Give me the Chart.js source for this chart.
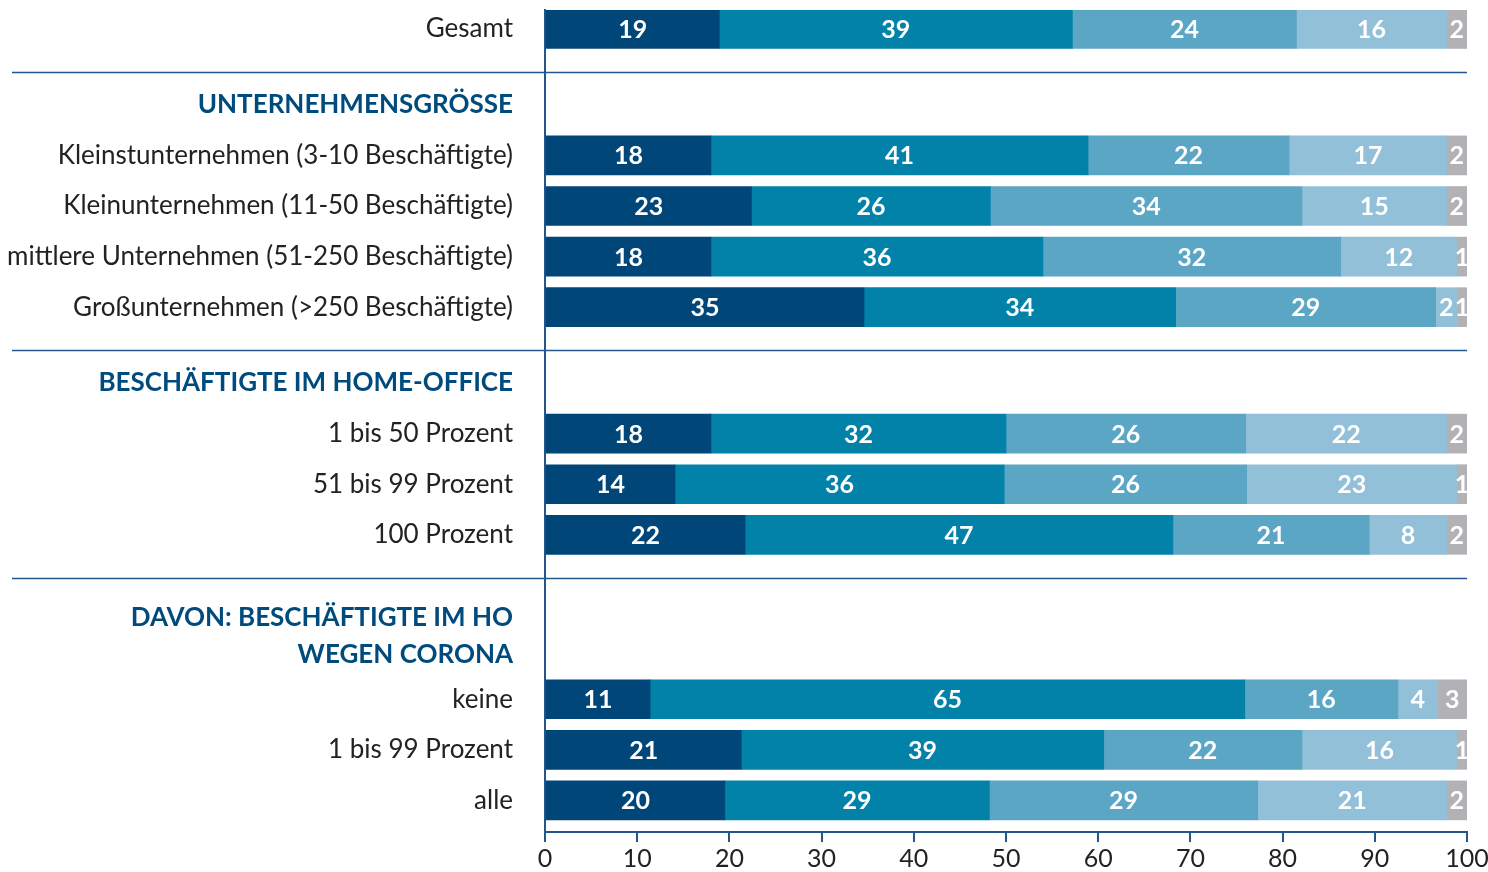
<!DOCTYPE html>
<html lang="de">
<head>
<meta charset="utf-8">
<title>Home-Office nach Unternehmensgröße</title>
<script src="https://cdn.jsdelivr.net/npm/chart.js@4.4.1/dist/chart.umd.min.js"></script>
<style>
    html, body { margin: 0; padding: 0; background: #fff; }
    canvas { display: block; }
</style>
</head>
<body>
<canvas id="chart" width="1488" height="872"></canvas>
<script>
// Zeilen mit Balken, von oben nach unten
const rowLabels = [
    "Gesamt",
    "Kleinstunternehmen (3-10 Beschäftigte)",
    "Kleinunternehmen (11-50 Beschäftigte)",
    "mittlere Unternehmen (51-250 Beschäftigte)",
    "Großunternehmen (>250 Beschäftigte)",
    "1 bis 50 Prozent",
    "51 bis 99 Prozent",
    "100 Prozent",
    "keine",
    "1 bis 99 Prozent",
    "alle",
];
const groupHeaders = [
    "UNTERNEHMENSGRÖSSE",
    "BESCHÄFTIGTE IM HOME-OFFICE",
    ["DAVON: BESCHÄFTIGTE IM HO", "WEGEN CORONA"],
];
// Anzahl Zeilen je Gruppe (die erste Gruppe "Gesamt" hat keine Überschrift)
const groupSizes = [1, 4, 3, 3];

// Balkenlängen in Prozent, so wie sie im Bild gezeichnet sind
const anteil1 = [18.9, 18.0, 22.4, 18.0, 34.6, 18.0, 14.1, 21.7, 11.4, 21.3, 19.5];
const anteil2 = [38.3, 40.9, 25.9, 36.0, 33.8, 32.0, 35.7, 46.4, 64.5, 39.3, 28.7];
const anteil3 = [24.3, 21.8, 33.8, 32.3, 28.2, 26.0, 26.3, 21.3, 16.6, 21.5, 29.1];
const anteil4 = [16.3, 17.1, 15.7, 12.6, 2.3, 21.8, 22.8, 8.4, 4.3, 16.8, 20.5];
const anteil5 = [2.2, 2.2, 2.2, 1.1, 1.1, 2.2, 1.1, 2.2, 3.2, 1.1, 2.2];

// gedruckte (gerundete) Werte in den Balken
const wert1 = [19, 18, 23, 18, 35, 18, 14, 22, 11, 21, 20];
const wert2 = [39, 41, 26, 36, 34, 32, 36, 47, 65, 39, 29];
const wert3 = [24, 22, 34, 32, 29, 26, 26, 21, 16, 22, 29];
const wert4 = [16, 17, 15, 12, 2, 22, 23, 8, 4, 16, 21];
const wert5 = [2, 2, 2, 1, 1, 2, 1, 2, 3, 1, 2];

const colors = ["#004678", "#0282a9", "#5ba5c5", "#92c0d8", "#b1b1b6"];

const FONT = "Lato";
const NAVY = "#23568a";
const HEADER_COLOR = "#004b7d";
const TEXT_COLOR = "#222222";

// Kategorieachse in Viertelzeilen aufbauen (Leerplätze für Abstände)
const slots = [""];
const barSlots = [];
const headerSlots = new Set();
const separators = [];
const pushBlank = (n) => {
    for (let i = 0; i < n; i++) {
        slots.push("");
    }
};

let rowIndex = 0;
groupSizes.forEach((size, g) => {
    if (g > 0) {
        const header = groupHeaders[g - 1];
        const extra = Array.isArray(header) ? header.length - 1 : 0;
        separators.push(slots.length + 2.5);
        pushBlank(5 + 2 * extra);
        headerSlots.add(slots.length);
        slots.push(header);
        pushBlank(3 + extra);
    }
    for (let r = 0; r < size; r++) {
        if (r > 0) {
            pushBlank(3);
        }
        barSlots.push(slots.length);
        slots.push(rowLabels[rowIndex]);
        rowIndex++;
    }
});
pushBlank(2);

const spread = (values) => {
    const out = slots.map(() => null);
    values.forEach((v, i) => {
        out[barSlots[i]] = v;
    });
    return out;
};

const seriesValues = [anteil1, anteil2, anteil3, anteil4, anteil5];
const seriesPrinted = [wert1, wert2, wert3, wert4, wert5];

const datasets = seriesValues.map((values, i) => ({
    data: spread(values),
    printed: spread(seriesPrinted[i]),
    backgroundColor: colors[i],
    borderWidth: 0,
    barThickness: 39,
}));

const separatorLines = {
    id: "separatorLines",
    afterDraw(chart) {
        const { ctx, chartArea } = chart;
        const yScale = chart.scales.y;
        ctx.save();
        ctx.strokeStyle = NAVY;
        ctx.lineWidth = 1.5;
        separators.forEach((pos) => {
            const y = Math.round(yScale.getPixelForValue(pos)) - 0.5;
            ctx.beginPath();
            ctx.moveTo(12, y);
            ctx.lineTo(chartArea.right, y);
            ctx.stroke();
        });
        ctx.restore();
    },
};

const valueLabels = {
    id: "valueLabels",
    afterDatasetsDraw(chart) {
        const { ctx } = chart;
        ctx.save();
        ctx.font = `bold 25px ${FONT}`;
        ctx.fillStyle = "#ffffff";
        ctx.textAlign = "center";
        ctx.textBaseline = "middle";
        chart.data.datasets.forEach((ds, di) => {
            chart.getDatasetMeta(di).data.forEach((bar, i) => {
                const label = ds.printed[i];
                if (label === null) {
                    return;
                }
                ctx.fillText(String(label), (bar.x + bar.base) / 2, bar.y + 1);
            });
        });
        ctx.restore();
    },
};

new Chart(document.getElementById("chart"), {
    type: "bar",
    data: {
        labels: slots,
        datasets,
    },
    options: {
        indexAxis: "y",
        responsive: false,
        animation: false,
        devicePixelRatio: 1,
        layout: {
            autoPadding: false,
            padding: { top: 10, right: 21, bottom: 0, left: 0 },
        },
        plugins: {
            legend: { display: false },
            tooltip: { enabled: false },
        },
        scales: {
            x: {
                stacked: true,
                min: 0,
                max: 100,
                ticks: {
                    stepSize: 10,
                    color: TEXT_COLOR,
                    font: { family: FONT, size: 25 },
                    padding: 2,
                    maxRotation: 0,
                },
                grid: {
                    drawOnChartArea: false,
                    drawTicks: true,
                    tickLength: 10,
                    color: NAVY,
                    lineWidth: 2,
                },
                border: { color: NAVY, width: 2 },
                afterFit(scale) {
                    scale.height = 40;
                    scale.paddingLeft = 0;
                    scale.paddingRight = 0;
                },
            },
            y: {
                stacked: true,
                ticks: {
                    autoSkip: false,
                    padding: 32,
                    color: (ctx) => (headerSlots.has(ctx.index) ? HEADER_COLOR : TEXT_COLOR),
                    font: (ctx) => (headerSlots.has(ctx.index)
                        ? { family: FONT, size: 26, weight: "bold", lineHeight: 1.4 }
                        : { family: FONT, size: 26 }),
                },
                grid: { display: false, drawTicks: false },
                border: { color: NAVY, width: 2 },
                afterFit(scale) {
                    scale.width = 545;
                    scale.paddingTop = 0;
                    scale.paddingBottom = 0;
                },
            },
        },
    },
    plugins: [valueLabels, separatorLines],
});
</script>
</body>
</html>
